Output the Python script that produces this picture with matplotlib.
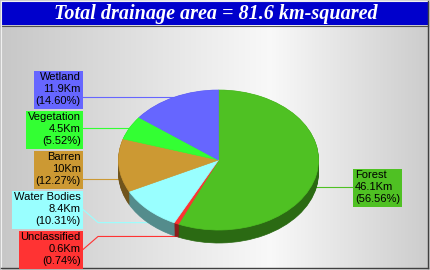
import numpy as np
import matplotlib
matplotlib.use('Agg')
import matplotlib.pyplot as plt
from matplotlib.colors import to_rgb
from matplotlib.patches import Rectangle

# data
categories = ['Forest', 'Unclassified', 'Water Bodies', 'Barren', 'Vegetation', 'Wetland']
areas_km = [46.1, 0.6, 8.4, 10, 4.5, 11.9]
colors = ['#4fc123', '#ff3333', '#99ffff', '#cc9933', '#33ff33', '#6666ff']
title = 'Total drainage area = 81.6 km-squared'

# layout (pixels)
W, H = 430, 270
cx, cy, rx, ry, depth = 218.5, 160, 100, 70, 13
label_y = [187.5, 249.5, 209.5, 169.5, 129.5, 89.5]
left_edge, right_edge = 83, 353

fig = plt.figure(figsize=(W / 100, H / 100), dpi=100)
ax = fig.add_axes([0, 0, 1, 1])
ax.set_xlim(0, W)
ax.set_ylim(H, 0)
ax.axis('off')

# background gradient
xs = np.arange(W) + 0.5
shade = np.interp(xs, [0, 270, W], [0.78, 0.975, 0.80])
grad = np.dstack([np.tile(shade, (H, 1))] * 3)
ax.imshow(grad, extent=[0, W, H, 0], aspect='auto', zorder=0)

# title bar
ax.add_patch(Rectangle((1, 1), W - 3, 24, fc='#0000cc', ec='none', zorder=1))
ax.plot([1, W - 2], [25.5, 25.5], color='#505050', lw=0.8, zorder=2)
ax.text(W / 2 + 1, 13.5, title, color='white', fontsize=14.5, fontweight='bold',
        fontstyle='italic', family='Liberation Serif', ha='center', va='center', zorder=3)

# border
ax.plot([0.5, W - 1.5], [0.5, 0.5], color='#f0f0f0', lw=0.8, zorder=4)
ax.plot([0.5, 0.5], [0.5, H - 1.5], color='#f0f0f0', lw=0.8, zorder=4)
ax.plot([W - 2.5, W - 2.5], [0.5, H - 2.5], color='#404040', lw=1, zorder=4)
ax.plot([0.5, W - 2.5], [H - 2.5, H - 2.5], color='#404040', lw=1, zorder=4)

# 3D pie
pax = fig.add_axes([(cx - rx) / W, (H - (cy + ry + depth)) / H,
                    2 * rx / W, (2 * ry + depth) / H], zorder=5)
d = depth / ry
dark = [tuple(c * 0.55 for c in to_rgb(col)) for col in colors]
for k in np.arange(d, 0, -0.015):
    ws, _ = pax.pie(areas_km, colors=dark, startangle=90, counterclock=False,
                    center=(0, -k), wedgeprops=dict(linewidth=0.5))
    for w in ws:
        w.set_edgecolor(w.get_facecolor())
wedges, _ = pax.pie(areas_km, colors=colors, startangle=90, counterclock=False,
                    wedgeprops=dict(linewidth=0.5))
for w in wedges:
    w.set_edgecolor(w.get_facecolor())
pax.set_aspect('auto')
pax.set_xlim(-1, 1)
pax.set_ylim(-1 - d, 1)
pax.axis('off')

# labels with leader lines
total = sum(areas_km)
for name, val, col, w, ly in zip(categories, areas_km, colors, wedges, label_y):
    mid = np.radians((w.theta1 + w.theta2) / 2)
    px = cx + rx * np.cos(mid)
    py = cy - ry * np.sin(mid)
    if np.sin(mid) < 0:
        py += depth
    txt = f'{name}\n{val:g}Km\n({val / total * 100:.2f}%)'
    right = np.cos(mid) >= 0
    edge = right_edge if right else left_edge
    ax.text(edge + (2.2 if right else -2.2), ly, txt,
            ha='left' if right else 'right', va='center',
            multialignment='left' if right else 'right',
            fontsize=8, family='Liberation Sans', linespacing=1.25,
            bbox=dict(boxstyle='square,pad=0.18', fc=col, ec='none'), zorder=6)
    if abs(py - ly) <= 11:
        ax.plot([edge, px], [py, py], color=col, lw=0.8, zorder=3)
    else:
        dy = abs(py - ly)
        kx = edge + (dy + 2) * (1 if edge < px else -1)
        ax.plot([edge, kx, px], [ly, py, py], color=col, lw=0.8, zorder=3)

fig.savefig('out.png', dpi=100)
